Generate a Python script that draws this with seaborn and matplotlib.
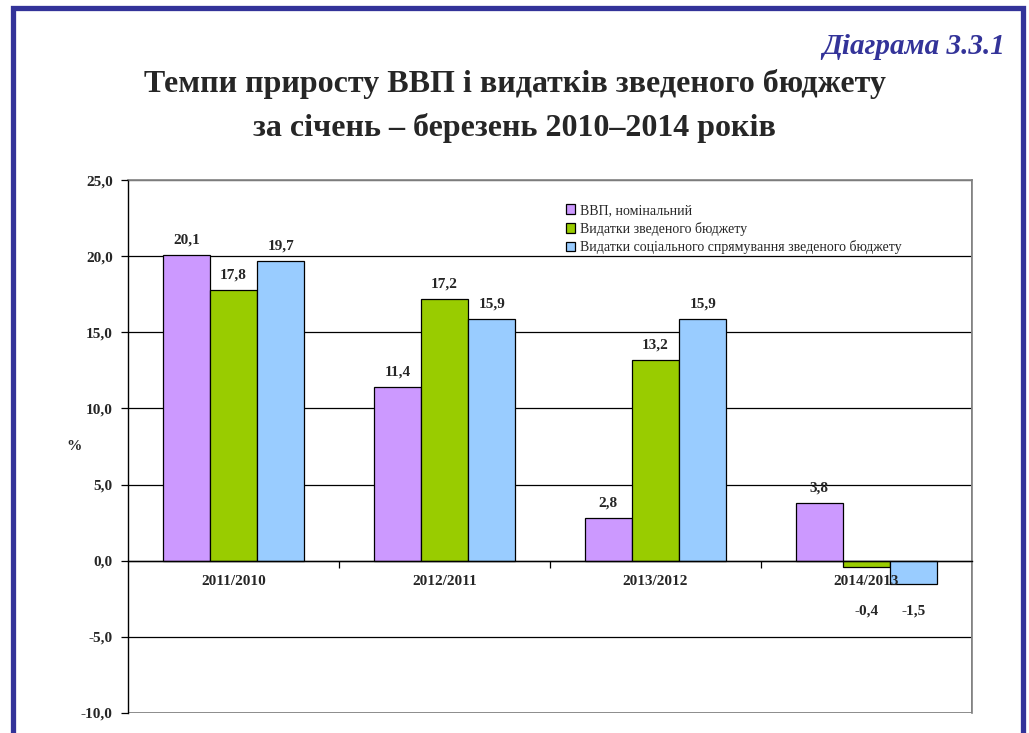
import pandas as pd
import numpy as np
import matplotlib
matplotlib.use("Agg")
import matplotlib.pyplot as plt
from matplotlib.patches import Rectangle, Patch
from matplotlib.ticker import FixedLocator
import seaborn as sns

# ── Data ──────────────────────────────────────────────────
periods = ['2011/2010', '2012/2011', '2013/2012', '2014/2013']
series = ['ВВП, номінальний',
          'Видатки зведеного бюджету',
          'Видатки соціального спрямування зведеного бюджету']
gdp = [20.1, 11.4, 2.8, 3.8]
budget = [17.8, 17.2, 13.2, -0.4]
social = [19.7, 15.9, 15.9, -1.5]
y_ticks = [-10, -5, 0, 5, 10, 15, 20, 25]
colors = ['#CC99FF', '#99CC00', '#99CCFF']

df = pd.DataFrame({
    'period': periods * 3,
    'series': [series[0]] * 4 + [series[1]] * 4 + [series[2]] * 4,
    'value': gdp + budget + social,
})

sns.set_style('white')
plt.rcParams['font.family'] = ['Liberation Serif', 'DejaVu Serif']

fig = plt.figure(figsize=(10.29, 7.33), dpi=100)
ax = fig.add_axes([0.1244, 0.0273, 0.8202, 0.7271])

sns.barplot(data=df, x='period', y='value', hue='series', palette=colors,
            saturation=1, width=0.67, edgecolor='black', linewidth=0.9,
            ax=ax, legend=False, zorder=2)

# ── Axes styling ──────────────────────────────────────────
ax.set_yticks(y_ticks)
ax.set_yticklabels([f'{t:.1f}'.replace('.', ',') for t in y_ticks],
                   fontsize=11, fontweight='bold')
ax.set_ylim(-10, 25)
ax.set_xlim(-0.5, 3.5)
# grid drawn under bars, axis (and its labels) kept on top of bars
ax.hlines(y_ticks, -0.5, 3.5, color='black', linewidth=0.9, zorder=1)
ax.set_axisbelow(False)
ax.tick_params(axis='y', length=5, width=0.9, color='black', direction='out',
               left=True, pad=6)

ax.spines['bottom'].set_position(('data', 0))
ax.spines['bottom'].set_color('black')
ax.spines['left'].set_color('black')
for s in ['bottom', 'left']:
    ax.spines[s].set_linewidth(1.0)
for s in ['top', 'right']:
    ax.spines[s].set_color('#808080')
    ax.spines[s].set_linewidth(1.2)
ax.add_patch(Rectangle((0, 0), 1, 1, transform=ax.transAxes, fill=False,
                       edgecolor='#808080', linewidth=1.2, zorder=1.5))

ax.xaxis.set_minor_locator(FixedLocator([0.5, 1.5, 2.5]))
ax.tick_params(axis='x', which='major', length=0, pad=10, labelsize=11)
ax.tick_params(axis='x', which='minor', length=5, width=0.9, color='black',
               direction='out', bottom=True)
for lbl in ax.get_xticklabels():
    lbl.set_fontweight('bold')
ax.set_xlabel('')
ax.set_ylabel('%', rotation=0, fontsize=11, fontweight='bold', labelpad=5, va='center')

# ── Value labels ──────────────────────────────────────────
for cont in ax.containers:
    for bar in cont:
        v = bar.get_height()
        x = bar.get_x() + bar.get_width() / 2
        txt = f'{v:.1f}'.replace('.', ',')
        if v >= 0:
            ax.annotate(txt, (x, v), xytext=(0, 6), textcoords='offset points',
                        ha='center', va='bottom', fontsize=11, fontweight='bold')
        else:
            ax.text(x, -3.3, txt, ha='center', va='center',
                    fontsize=11, fontweight='bold')

# ── Legend ────────────────────────────────────────────────
handles = [Patch(facecolor=c, edgecolor='black', linewidth=0.9) for c in colors]
ax.legend(handles, series, loc='upper left', bbox_to_anchor=(0.512, 0.966),
          frameon=False, fontsize=10, handlelength=0.7, handleheight=0.7,
          handletextpad=0.3, labelspacing=0.35, borderaxespad=0)

# ── Titles and frame ──────────────────────────────────────
fig.text(0.977, 0.937, 'Діаграма 3.3.1', ha='right', va='center', fontsize=21,
         fontweight='bold', style='italic', color='#333399')
fig.text(0.50, 0.886, 'Темпи приросту ВВП і видатків зведеного бюджету',
         ha='center', va='center', fontsize=23, fontweight='bold')
fig.text(0.50, 0.825, 'за січень – березень 2010–2014 років',
         ha='center', va='center', fontsize=23, fontweight='bold')

fig.add_artist(Rectangle((12.5 / 1029, -0.05), (1022.5 - 12.5) / 1029, 1 - 7.5 / 733 + 0.05,
                         transform=fig.transFigure, fill=False,
                         edgecolor='#333399', linewidth=3.8))

plt.savefig('out.png', dpi=100)
plt.close()
